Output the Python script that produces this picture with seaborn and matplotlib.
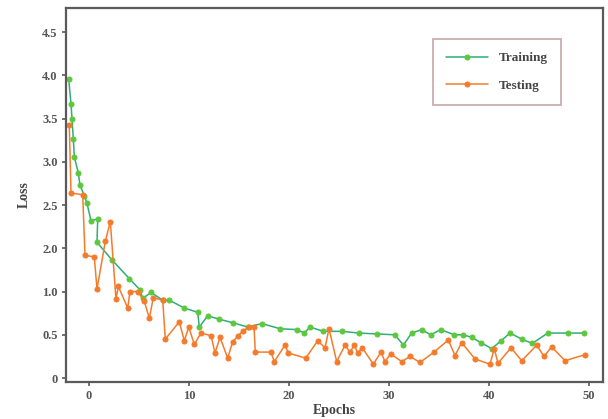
import matplotlib
matplotlib.use("Agg")
import matplotlib.pyplot as plt
import seaborn as sns
import pandas as pd

# Training loss (x = epoch, y = loss on the chart's vertical scale)
train_x = [-2.03, -1.8, -1.7, -1.57, -1.47, -1.07, -0.9, -0.47, -0.2, 0.2, 0.87, 0.8,
           2.27, 4.03, 5.1, 5.37, 6.2, 7.37, 8.03, 9.53, 10.87, 11.03, 11.87, 13.03,
           14.37, 15.87, 17.3, 19.1, 20.77, 21.53, 22.1, 23.43, 25.27, 27.0, 28.77,
           30.6, 31.43, 32.27, 33.27, 34.17, 35.17, 36.53, 37.43, 38.27, 39.2, 40.27,
           41.2, 42.1, 43.27, 44.33, 45.87, 47.87, 49.53]
train_y = [3.46, 3.17, 3.0, 2.77, 2.56, 2.37, 2.23, 2.11, 2.02, 1.82, 1.84, 1.57,
           1.37, 1.15, 1.02, 0.92, 0.99, 0.90, 0.90, 0.81, 0.76, 0.59, 0.72, 0.68,
           0.64, 0.59, 0.63, 0.57, 0.56, 0.52, 0.59, 0.54, 0.54, 0.52, 0.51,
           0.50, 0.38, 0.52, 0.56, 0.50, 0.56, 0.50, 0.50, 0.47, 0.41, 0.34,
           0.43, 0.52, 0.45, 0.40, 0.52, 0.52, 0.52]

# Testing loss
test_x = [-1.97, -1.8, -0.63, -0.4, 0.53, 0.8, 1.63, 2.13, 2.7, 2.93, 3.87, 4.1,
          4.87, 5.53, 6.03, 6.43, 7.37, 7.63, 9.03, 9.53, 9.97, 10.53, 11.2, 12.2,
          12.6, 13.1, 13.87, 14.37, 14.93, 15.37, 15.97, 16.5, 16.63, 18.2, 18.53,
          19.6, 19.93, 21.67, 22.87, 23.6, 24.0, 24.77, 25.6, 26.1, 26.53, 26.87,
          27.33, 28.43, 29.2, 29.6, 30.17, 31.27, 32.1, 33.1, 34.5, 35.93, 36.6,
          37.27, 38.6, 40.1, 40.53, 40.9, 42.2, 43.27, 44.77, 45.5, 46.27, 47.6, 49.6]
test_y = [2.93, 2.14, 2.12, 1.42, 1.40, 1.03, 1.58, 1.81, 0.91, 1.06, 0.81, 1.00,
          1.00, 0.89, 0.69, 0.93, 0.90, 0.45, 0.65, 0.43, 0.59, 0.39, 0.52, 0.49,
          0.29, 0.47, 0.23, 0.42, 0.49, 0.54, 0.59, 0.59, 0.30, 0.30, 0.19,
          0.38, 0.29, 0.23, 0.43, 0.35, 0.57, 0.19, 0.38, 0.30, 0.38, 0.29,
          0.35, 0.16, 0.30, 0.19, 0.28, 0.19, 0.25, 0.18, 0.30, 0.44, 0.26,
          0.41, 0.22, 0.16, 0.34, 0.17, 0.35, 0.20, 0.38, 0.25, 0.36, 0.20, 0.27]

x_ticks = [0, 10, 20, 30, 40, 50]
y_tick_pos = [0, 0.5, 1.0, 1.5, 2.0, 2.5, 3.0, 3.5, 4.0]
y_tick_labels = ["0", "0.5", "1.0", "2.0", "2.5", "3.0", "3.5", "4.0", "4.5"]

df = pd.concat([
    pd.DataFrame({"Epochs": train_x, "Loss": train_y, "set": "Training"}),
    pd.DataFrame({"Epochs": test_x, "Loss": test_y, "set": "Testing"}),
], ignore_index=True)

sns.set_style("ticks")
plt.rcParams["font.family"] = ["Liberation Serif", "DejaVu Serif"]

fig = plt.figure(figsize=(6.08, 4.19), dpi=100)
ax = fig.add_axes([66 / 608, 1 - 382 / 419, 537 / 608, 374 / 419])

line_colors = {"Training": "#2fae78", "Testing": "#f47b2c"}
marker_colors = {"Training": "#5ec83c", "Testing": "#f47b2c"}

for name in ["Training", "Testing"]:
    sub = df[df["set"] == name]
    sns.lineplot(data=sub, x="Epochs", y="Loss", ax=ax, sort=False, estimator=None,
                 color=line_colors[name], linewidth=1.1, marker="o", markersize=3.6,
                 markerfacecolor=marker_colors[name], markeredgecolor=marker_colors[name],
                 label=name)

ax.set_xlim(-2.3, 51.4)
ax.set_ylim(-0.046, 4.28)
ax.set_xticks(x_ticks)
ax.set_xticklabels([str(t) for t in x_ticks])
ax.set_yticks(y_tick_pos)
ax.set_yticklabels(y_tick_labels)

for s in ax.spines.values():
    s.set_visible(True)
    s.set_color("#5a5a5a")
    s.set_linewidth(1.6)

ax.tick_params(axis="both", colors="#5a5a5a", labelcolor="#555555", labelsize=9,
               length=3, width=1.2, pad=3)
for lbl in ax.get_xticklabels() + ax.get_yticklabels():
    lbl.set_fontweight("bold")

ax.set_xlabel("Epochs", fontsize=10, fontweight="bold", color="#444444", labelpad=1)
ax.set_ylabel("Loss", fontsize=10, fontweight="bold", color="#444444", labelpad=8)

leg = ax.legend(loc="upper left", bbox_to_anchor=(0.683, 0.917), frameon=True,
                fancybox=False, framealpha=1, edgecolor="#c9a6a6",
                prop={"family": ["Liberation Serif"], "weight": "bold", "size": 9.5},
                labelspacing=1.15, handlelength=3.2, handletextpad=0.8,
                borderpad=1.0, borderaxespad=0)
leg.get_frame().set_linewidth(1.2)
for t in leg.get_texts():
    t.set_color("#444444")

fig.savefig("out.png", dpi=100)
